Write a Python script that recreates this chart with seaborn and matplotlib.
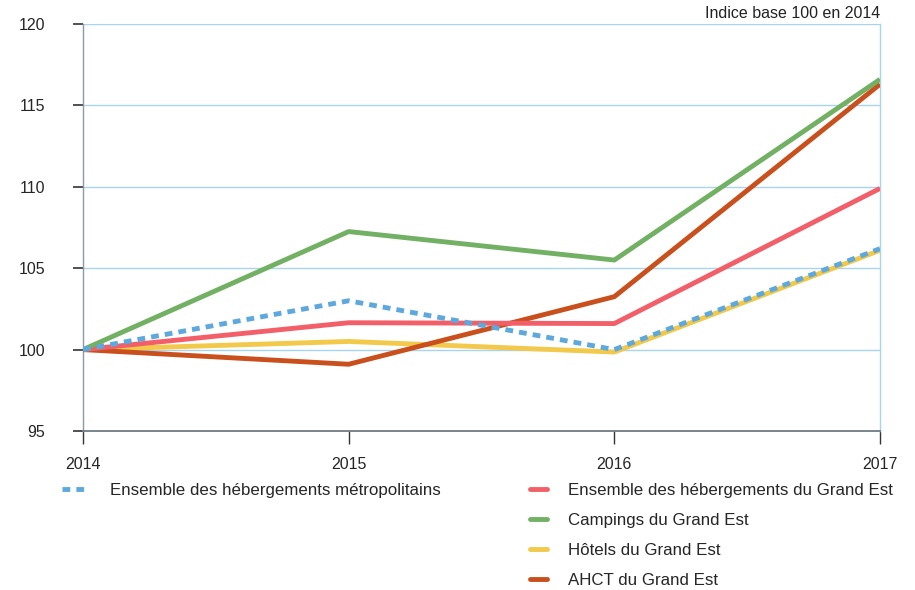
import matplotlib
matplotlib.use("Agg")
import matplotlib.pyplot as plt
import seaborn as sns
import pandas as pd
from matplotlib.lines import Line2D

years = [2014, 2015, 2016, 2017]
metropole = [100.0, 103.0, 100.0, 106.2]
ensemble_ge = [100.0, 101.65, 101.6, 109.9]
campings_ge = [100.0, 107.25, 105.5, 116.6]
hotels_ge = [100.0, 100.5, 99.85, 106.1]
ahct_ge = [100.0, 99.1, 103.25, 116.3]

labels = [
    "Ensemble des hébergements métropolitains",
    "Ensemble des hébergements du Grand Est",
    "Campings du Grand Est",
    "Hôtels du Grand Est",
    "AHCT du Grand Est",
]
series = [metropole, ensemble_ge, campings_ge, hotels_ge, ahct_ge]
colors = ["#5DA9DD", "#F25F68", "#72B164", "#F2C94A", "#C9501D"]
y_ticks = [95, 100, 105, 110, 115, 120]

sns.set_theme(style="white")
plt.rcParams["font.family"] = ["Liberation Sans Narrow", "Liberation Sans", "DejaVu Sans"]

fig = plt.figure(figsize=(9.15, 5.9), dpi=100)
ax = fig.add_axes([83 / 915, 1 - 431 / 590, (880 - 83) / 915, (431 - 24) / 590])

df = pd.DataFrame({
    "year": years * len(labels),
    "value": sum(series, []),
    "serie": sum([[l] * len(years) for l in labels], []),
})

lw = 3.5
dotted = (0, (1.6, 1.25))
draw_order = [3, 4, 1, 2, 0]
for k, i in enumerate(draw_order):
    sub = df[df["serie"] == labels[i]]
    sns.lineplot(x="year", y="value", data=sub, ax=ax, color=colors[i],
                 linewidth=lw, legend=False)
    l = ax.get_lines()[-1]
    l.set_zorder(3 + k)
    if i == 0:
        l.set_linestyle(dotted)
    l.set_solid_capstyle("butt")
    l.set_dash_capstyle("butt")

ax.set_xlim(2014, 2017)
ax.set_ylim(95, 120)
ax.set_yticks(y_ticks)
ax.set_xticks(years)
ax.set_xticklabels([str(y) for y in years])
ax.set_xlabel("")
ax.set_ylabel("")

for y in y_ticks[1:]:
    ax.axhline(y, color="#A8D4EE", linewidth=1.0, zorder=1)

ax.spines["top"].set_visible(False)
ax.spines["right"].set_color("#A8D4EE")
ax.spines["right"].set_linewidth(1.0)
ax.spines["left"].set_color("#8A9AA6")
ax.spines["left"].set_linewidth(1.0)
ax.spines["bottom"].set_color("#6E7B85")
ax.spines["bottom"].set_linewidth(1.3)

ax.tick_params(axis="y", direction="out", length=7, width=1.2, color="#333333",
               labelsize=11.5, pad=20, left=True)
ax.tick_params(axis="x", direction="out", length=9, width=1.0, color="#333333",
               labelsize=11.5, pad=10, bottom=True)

fig.text(880 / 915, 1 - 14 / 590, "Indice base 100 en 2014", ha="right", va="center",
         fontsize=11.5, color="#222222")

fs = 12.2
h0 = [Line2D([], [], color=colors[0], linewidth=lw, linestyle=dotted)]
leg1 = fig.legend(h0, [labels[0]], loc="upper left", bbox_to_anchor=(62 / 915, 1 - 483 / 590),
                  frameon=False, fontsize=fs, handlelength=1.6, handletextpad=1.25,
                  borderaxespad=0, borderpad=0)
hs = [Line2D([], [], color=colors[i], linewidth=lw) for i in range(1, 5)]
leg2 = fig.legend(hs, labels[1:], loc="upper left", bbox_to_anchor=(530 / 915, 1 - 483 / 590),
                  frameon=False, fontsize=fs, handlelength=1.0, handletextpad=1.25,
                  labelspacing=0.88, borderaxespad=0, borderpad=0)

fig.savefig("out.png", dpi=100)
